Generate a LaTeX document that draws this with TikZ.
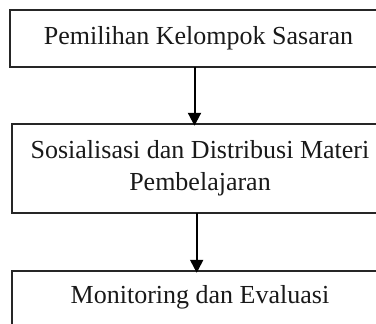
\documentclass[tikz,border=0pt]{standalone}
\usepackage{fontspec}
\setmainfont{Liberation Serif}
\usetikzlibrary{arrows.meta}
\begin{document}
\begin{tikzpicture}[x=1pt,y=-1pt,
  box/.style={inner sep=0pt, align=center,
    font=\fontsize{26}{32}\selectfont, text=black!90},
  edge/.style={draw=black!85, line width=1.7pt},
  arr/.style={line width=2pt, shorten >=-2pt, -{Triangle[width=13pt,length=13pt]}}]
\useasboundingbox (0,0) rectangle (376,324);
\clip (0,0) rectangle (376,324);
\node[box, minimum width=377pt, minimum height=57pt] (top) at (198.5,38.5) {Pemilihan Kelompok Sasaran};
\node[box, minimum width=376pt, minimum height=89pt] (mid) at (200,168.5) {Sosialisasi dan Distribusi Materi\\Pembelajaran};
\node[box, minimum width=376pt, minimum height=53pt] (bot) at (200,297.5) {Monitoring dan Evaluasi};
\draw[edge] (top.north west) rectangle ([xshift=40pt]top.south east);
\draw[edge] (mid.north west) rectangle ([xshift=40pt]mid.south east);
\draw[edge] (bot.north west) rectangle ([xshift=40pt,yshift=-40pt]bot.south east);
\coordinate (a1) at (194.5,0);
\coordinate (a2) at (196.7,0);
\draw[arr] (top.south -| a1) -- (mid.north -| a1);
\draw[arr] (mid.south -| a2) -- (bot.north -| a2);
\end{tikzpicture}
\end{document}
